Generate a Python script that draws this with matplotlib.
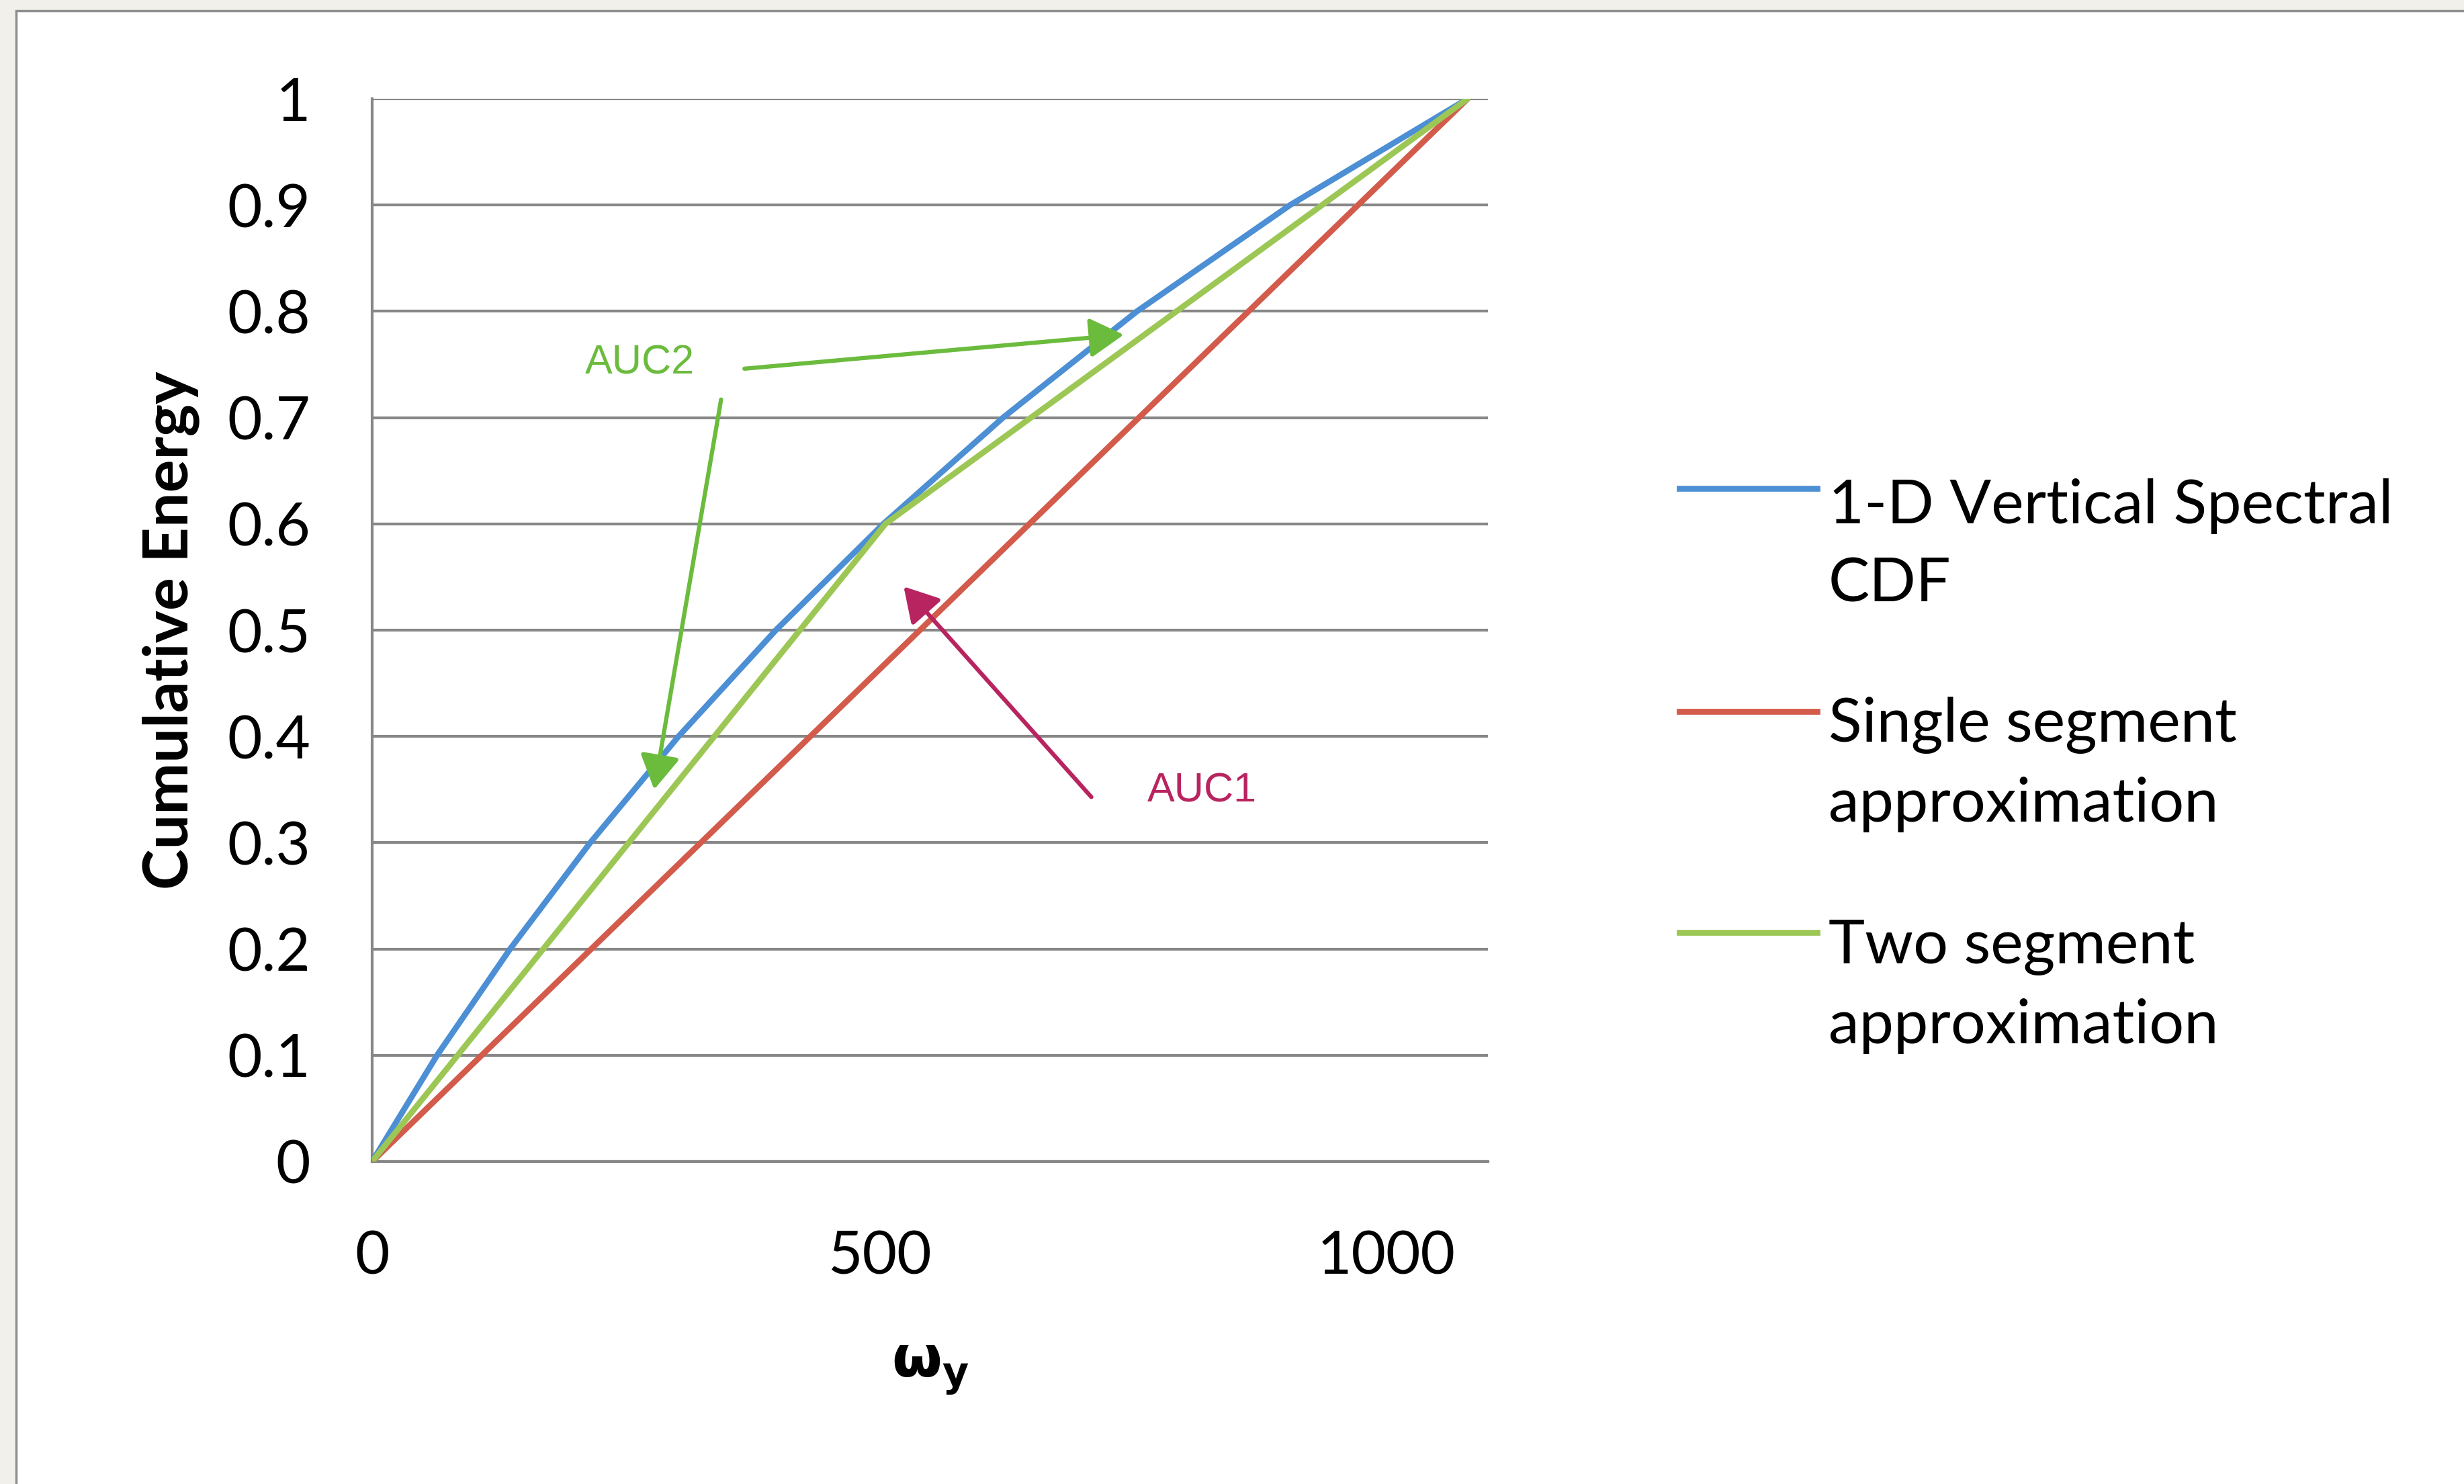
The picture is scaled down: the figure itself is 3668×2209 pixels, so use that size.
import matplotlib
matplotlib.use("Agg")
import matplotlib.pyplot as plt
from matplotlib.patches import Rectangle
from matplotlib.lines import Line2D

# ---------------- data ----------------
omega_cdf = [0, 64, 136, 215, 302, 398, 504, 622, 754, 905, 1080]
energy_cdf = [0, 0.1, 0.2, 0.3, 0.4, 0.5, 0.6, 0.7, 0.8, 0.9, 1.0]

omega_single = [0, 1080]
energy_single = [0, 1.0]

omega_two = [0, 506, 1080]
energy_two = [0, 0.6, 1.0]

series_labels = ["1-D Vertical Spectral\nCDF",
                 "Single segment\napproximation",
                 "Two segment\napproximation"]
series_colors = ["#4C8FD4", "#D35B4B", "#9CC755"]

y_ticks = [0, 0.1, 0.2, 0.3, 0.4, 0.5, 0.6, 0.7, 0.8, 0.9, 1.0]
y_tick_labels = ["0", "0.1", "0.2", "0.3", "0.4", "0.5", "0.6", "0.7", "0.8", "0.9", "1"]
x_ticks = [0, 500, 1000]
x_tick_labels = ["0", "500", "1000"]

# ---------------- figure ----------------
W, H = 3668, 2209
DPI = 100
plt.rcParams['mathtext.fontset'] = 'dejavusans'
fig = plt.figure(figsize=(W / DPI, H / DPI), dpi=DPI, facecolor="#F2F0EA")

def fx(px):
    return px / W

def fy(py):
    return 1 - py / H

# white chart card with grey edge
fig.add_artist(Rectangle((fx(24), fy(H + 60)), fx(W + 60 - 24), (H + 60 - 16) / H,
                         transform=fig.transFigure, facecolor="white",
                         edgecolor="#8E8E8E", lw=2.5, zorder=0))

L, R, T, B = 554, 2215, 147, 1729
ax = fig.add_axes([fx(L), fy(B), (R - L) / W, (B - T) / H])
ax.set_facecolor("white")
ax.set_xlim(0, 1100)
ax.set_ylim(0, 1)

grid_col = "#878787"
for s in ["top", "right"]:
    ax.spines[s].set_visible(False)
for s in ["left", "bottom"]:
    ax.spines[s].set_color(grid_col)
    ax.spines[s].set_linewidth(3)
ax.set_yticks(y_ticks)
ax.set_yticklabels(y_tick_labels)
ax.set_xticks(x_ticks)
ax.set_xticklabels(x_tick_labels)
ax.yaxis.grid(True, color=grid_col, lw=3)
ax.set_axisbelow(True)
ax.tick_params(axis='both', length=0, labelsize=64)
ax.tick_params(axis='y', pad=66)
ax.tick_params(axis='x', pad=73)
for lab in ax.get_xticklabels() + ax.get_yticklabels():
    lab.set_fontfamily("Lato")

lw = 6.3
ax.plot(omega_cdf, energy_cdf, color=series_colors[0], lw=lw, zorder=3,
        solid_joinstyle='round', solid_capstyle='round')
ax.plot(omega_single, energy_single, color=series_colors[1], lw=lw, zorder=3,
        solid_capstyle='round')
ax.plot(omega_two, energy_two, color=series_colors[2], lw=lw, zorder=3,
        solid_joinstyle='round', solid_capstyle='round')

ax.set_ylabel("Cumulative Energy", fontsize=66, fontweight='bold', family="Lato", labelpad=30)
ax.set_xlabel(r"$\mathbf{\omega_y}$", fontsize=62, labelpad=60)

# annotations
green = "#6BBB3D"
magenta = "#B8245F"
ax.text(264, 0.751, "AUC2", color=green, fontsize=44, family="Liberation Sans",
        ha='center', va='center', zorder=5)
ax.text(818, 0.348, "AUC1", color=magenta, fontsize=44, family="Liberation Sans",
        ha='center', va='center', zorder=5)
arrow_kw = dict(arrowstyle='-|>,head_length=3.1,head_width=1.8', lw=4.5,
                shrinkA=0, shrinkB=0, mutation_scale=10)
ax.annotate("", xy=(741, 0.778), xytext=(367, 0.746),
            arrowprops=dict(color=green, **arrow_kw), zorder=5)
ax.annotate("", xy=(278, 0.350), xytext=(344, 0.717),
            arrowprops=dict(color=green, **arrow_kw), zorder=5)
ax.annotate("", xy=(524, 0.541), xytext=(709, 0.343),
            arrowprops=dict(color=magenta, **arrow_kw), zorder=5)

# legend (handles aligned with first line of each label)
handle_y = [727, 1059, 1388]
last_base_y = [895, 1223, 1553]
for lab, col, hy, by in zip(series_labels, series_colors, handle_y, last_base_y):
    fig.add_artist(Line2D([fx(2500), fx(2705)], [fy(hy), fy(hy)], transform=fig.transFigure,
                          color=col, lw=lw))
    fig.text(fx(2722), fy(by), lab, fontsize=66, family="Lato", ha='left', va='baseline',
             linespacing=1.5)

fig.savefig("out.png", dpi=DPI, facecolor=fig.get_facecolor())
